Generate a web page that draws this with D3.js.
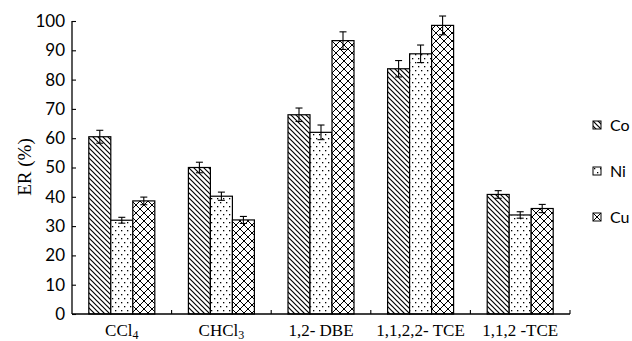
<!DOCTYPE html>
<html>
<head>
<meta charset="utf-8">
<script src="https://cdn.jsdelivr.net/npm/d3@7"></script>
<style>
body { margin: 0; background: #fff; }
</style>
</head>
<body>
<svg class="chart"></svg>
<script>
var categories = ["CCl4", "CHCl3", "1,2- DBE", "1,1,2,2- TCE", "1,1,2 -TCE"];
var seriesNames = ["Co", "Ni", "Cu"];
var coValues = [60.5, 50, 68, 83.7, 40.8];
var niValues = [32, 40.2, 62, 88.8, 33.8];
var cuValues = [38.6, 32.1, 93.3, 98.5, 36];
var coErr = [2.2, 1.8, 2.3, 2.8, 1.3];
var niErr = [1.0, 1.4, 2.5, 3.0, 1.1];
var cuErr = [1.3, 1.2, 3.0, 3.2, 1.4];
var yTicks = [0, 10, 20, 30, 40, 50, 60, 70, 80, 90, 100];

function show() {
    'use strict';

    var svg = d3.select(".chart").attr("width", 632).attr("height", 341);
    var margin = { top: 21, left: 72, right: 62, bottom: 27 };
    var width = 570 - margin.left, height = 314 - margin.top;

    var defs = svg.append("defs");
    // Co: diagonal hatch
    var p1 = defs.append("pattern").attr("id", "pCo").attr("patternUnits", "userSpaceOnUse")
        .attr("width", 5).attr("height", 5);
    p1.append("rect").attr("width", 5).attr("height", 5).attr("fill", "#fff");
    p1.append("path").attr("d", "M-1,-1 L6,6 M-1,4 L1,6 M4,-1 L6,1")
        .attr("stroke", "#000").attr("stroke-width", 1.2);
    // Ni: dots
    var p2 = defs.append("pattern").attr("id", "pNi").attr("patternUnits", "userSpaceOnUse")
        .attr("width", 6).attr("height", 8);
    p2.append("rect").attr("width", 6).attr("height", 8).attr("fill", "#fff");
    p2.append("rect").attr("x", 1).attr("y", 1).attr("width", 1.3).attr("height", 1.3).attr("fill", "#000");
    p2.append("rect").attr("x", 4).attr("y", 5).attr("width", 1.3).attr("height", 1.3).attr("fill", "#000");
    // Cu: crosshatch
    var p3 = defs.append("pattern").attr("id", "pCu").attr("patternUnits", "userSpaceOnUse")
        .attr("width", 8).attr("height", 8);
    p3.append("rect").attr("width", 8).attr("height", 8).attr("fill", "#fff");
    p3.append("path").attr("d", "M0,0 L8,8 M8,0 L0,8")
        .attr("stroke", "#000").attr("stroke-width", 1);
    var fills = ["url(#pCo)", "url(#pNi)", "url(#pCu)"];

    var chart = svg.append("g")
        .attr("transform", "translate(" + margin.left + "," + margin.top + ")");

    var x = d3.scaleBand().domain(categories).range([0, width]);
    var xs = d3.scaleBand().domain(seriesNames).range([0, 66]);
    var y = d3.scaleLinear().domain([0, 100]).range([height, 0]);

    var values = [coValues, niValues, cuValues];
    var errs = [coErr, niErr, cuErr];
    var data = [];
    categories.forEach(function (c, i) {
        seriesNames.forEach(function (s, j) {
            data.push({ cat: c, s: s, j: j, v: values[j][i], e: errs[j][i] });
        });
    });

    var off = (x.bandwidth() - 66) / 2;
    chart.selectAll("rect.bar").data(data).enter()
        .append("rect").attr("class", "bar")
        .attr("x", function (d) { return x(d.cat) + off + xs(d.s); })
        .attr("y", function (d) { return y(d.v); })
        .attr("width", xs.bandwidth())
        .attr("height", function (d) { return height - y(d.v); })
        .attr("fill", function (d) { return fills[d.j]; })
        .attr("stroke", "#000").attr("stroke-width", 1.2);

    var eb = chart.selectAll("g.err").data(data).enter().append("g").attr("class", "err")
        .attr("stroke", "#000").attr("stroke-width", 1.1);
    function cx(d) { return x(d.cat) + off + xs(d.s) + xs.bandwidth() / 2; }
    eb.append("line").attr("x1", cx).attr("x2", cx)
        .attr("y1", function (d) { return y(d.v - d.e); })
        .attr("y2", function (d) { return y(d.v + d.e); });
    eb.append("line").attr("x1", function (d) { return cx(d) - 3.5; })
        .attr("x2", function (d) { return cx(d) + 3.5; })
        .attr("y1", function (d) { return y(d.v + d.e); })
        .attr("y2", function (d) { return y(d.v + d.e); });
    eb.append("line").attr("x1", function (d) { return cx(d) - 3.5; })
        .attr("x2", function (d) { return cx(d) + 3.5; })
        .attr("y1", function (d) { return y(d.v - d.e); })
        .attr("y2", function (d) { return y(d.v - d.e); });

    // y axis
    var yAxis = chart.append("g")
        .call(d3.axisLeft(y).tickValues(yTicks).tickSize(-4).tickPadding(7));
    yAxis.select(".domain").attr("d", "M0," + height + "V0").attr("stroke-width", 1.3);
    yAxis.selectAll("line").attr("stroke-width", 1.1);
    yAxis.selectAll("text").attr("font-family", "Lato, sans-serif")
        .attr("font-size", 17).attr("fill", "#000");

    // x axis
    var xAxis = chart.append("g").attr("transform", "translate(0," + height + ")");
    xAxis.append("line").attr("x1", 0).attr("x2", width).attr("stroke", "#000").attr("stroke-width", 1.3);
    xAxis.selectAll("line.tk").data(categories).enter().append("line").attr("class", "tk")
        .attr("x1", function (d) { return x(d) + x.bandwidth(); })
        .attr("x2", function (d) { return x(d) + x.bandwidth(); })
        .attr("y1", 0).attr("y2", -4).attr("stroke", "#000").attr("stroke-width", 1.1);

    var labels = xAxis.selectAll("text").data(categories).enter().append("text")
        .attr("x", function (d) { return x(d) + x.bandwidth() / 2; })
        .attr("y", 22)
        .attr("text-anchor", "middle")
        .attr("font-family", "'Liberation Serif', serif")
        .attr("font-size", 17);
    labels.each(function (d) {
        var t = d3.select(this);
        var m = d.match(/^(.*?)(\d)$/);
        if (d.indexOf("Cl") >= 0 && m) {
            t.append("tspan").text(m[1]);
            t.append("tspan").attr("font-size", 12).attr("dy", 3).text(m[2]);
        } else {
            t.text(d);
        }
    });

    // y title
    svg.append("text")
        .attr("transform", "translate(31," + 167 + ") rotate(-90)")
        .attr("text-anchor", "middle")
        .attr("font-family", "'Liberation Serif', serif")
        .attr("font-size", 19)
        .text("ER (%)");

    // legend
    var lg = svg.selectAll("g.lg").data(seriesNames).enter().append("g").attr("class", "lg")
        .attr("transform", function (d, i) { return "translate(593," + (121 + i * 46) + ")"; });
    lg.append("rect").attr("width", 8).attr("height", 8)
        .attr("fill", function (d, i) { return fills[i]; })
        .attr("stroke", "#000").attr("stroke-width", 1);
    lg.append("text").attr("x", 17).attr("y", 9.5)
        .attr("font-family", "Lato, sans-serif").attr("font-size", 16)
        .text(function (d) { return d; });
}
show();
</script>
</body>
</html>
